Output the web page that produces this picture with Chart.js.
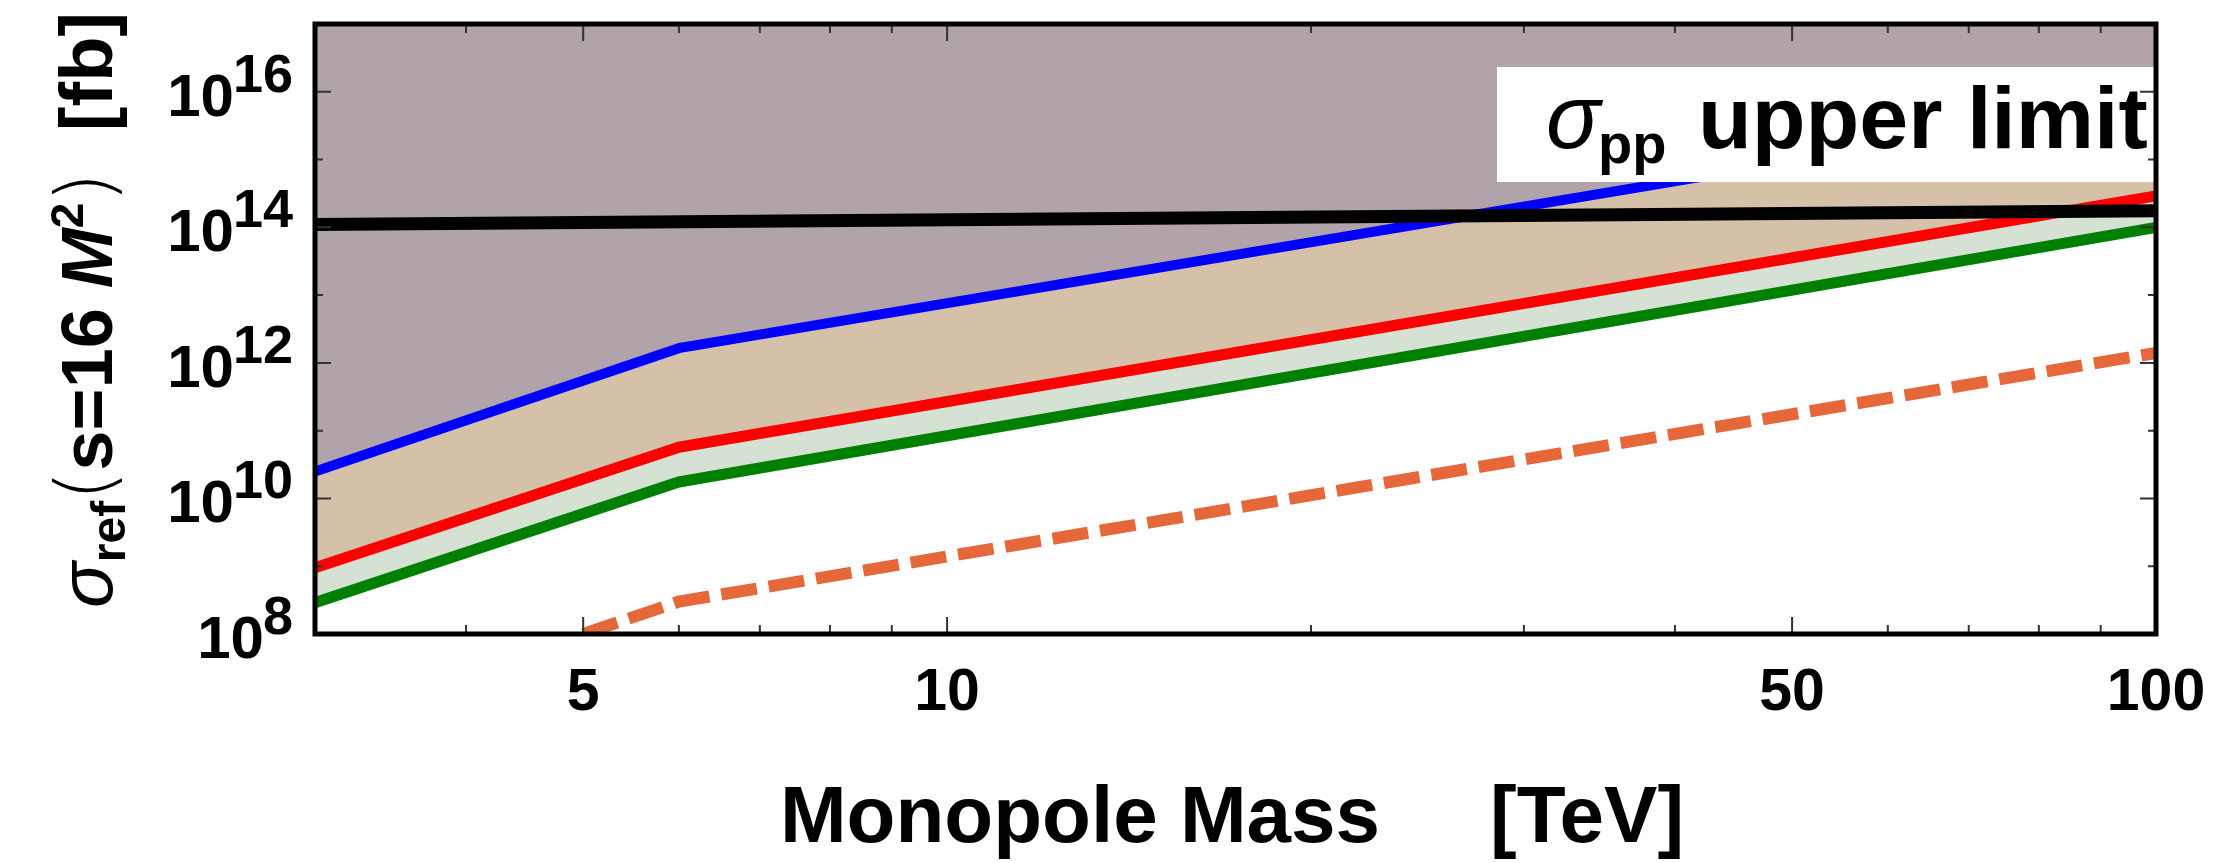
<!DOCTYPE html>
<html>
<head>
<meta charset="utf-8">
<script src="https://cdn.jsdelivr.net/npm/chart.js@4.4.1/dist/chart.umd.min.js"></script>
<style>
  html, body { margin: 0; padding: 0; background: #fff; }
  canvas { display: block; }
</style>
</head>
<body>
<canvas id="sigma-chart" width="2223" height="863"></canvas>
<script>
// monopole mass [TeV]
const massTeV = [3, 6, 100];
const dashedMassTeV = [5, 6, 100];
const limitMassTeV = [3, 100];

// cross sections [fb]
const blueCurve = [2.5e10, 1.65e12, 7.4e15];
const redCurve = [9.5e8, 5.7e10, 2.9e14];
const greenCurve = [2.9e8, 1.75e10, 1.0e14];
const dashedCurve = [1.0e8, 3.0e8, 1.4e12];
const limitCurve = [1.1e14, 1.75e14];

// axis ticks
const xMajorTicks = [5, 10, 50, 100];
const xMinorTicks = [4, 6, 7, 8, 9, 20, 30, 40, 60, 70, 80, 90];
const yLabelExponents = [8, 10, 12, 14, 16];
const yDecadeExponents = [9, 11, 13, 15];

const FONT = '"Liberation Sans", Arial, Helvetica, sans-serif';

const pts = (xs, ys) => xs.map((x, i) => ({ x: x, y: ys[i] }));

// frame, inward ticks, tick labels, axis titles and the limit box
const framePlugin = {
  id: 'framePlugin',
  afterDatasetsDraw(chart) {
    const { ctx, chartArea: a, scales: { x, y } } = chart;
    ctx.save();

    // white label box over the top right corner
    ctx.fillStyle = '#fff';
    ctx.fillRect(1497, 67, a.right - 1497, 182 - 67);
    ctx.fillStyle = '#000';
    ctx.textAlign = 'left';
    ctx.textBaseline = 'alphabetic';
    ctx.font = 'italic 90px ' + FONT;
    ctx.fillText('σ', 1546, 148);
    ctx.font = 'bold 56px ' + FONT;
    ctx.fillText('pp', 1598, 163);
    ctx.font = 'bold 88px ' + FONT;
    ctx.fillText('upper limit', 1698, 148);

    // ticks
    ctx.strokeStyle = '#333';
    ctx.lineWidth = 2;
    ctx.beginPath();
    const xTick = (v, len) => {
      const px = x.getPixelForValue(v);
      ctx.moveTo(px, a.bottom); ctx.lineTo(px, a.bottom - len);
      ctx.moveTo(px, a.top); ctx.lineTo(px, a.top + len);
    };
    const yTick = (v, len) => {
      const py = y.getPixelForValue(v);
      ctx.moveTo(a.left, py); ctx.lineTo(a.left + len, py);
      ctx.moveTo(a.right, py); ctx.lineTo(a.right - len, py);
    };
    xMajorTicks.forEach(v => xTick(v, 17));
    xMinorTicks.forEach(v => xTick(v, 9));
    yLabelExponents.forEach(e => yTick(Math.pow(10, e), 16));
    yDecadeExponents.forEach(e => yTick(Math.pow(10, e), 8));
    ctx.stroke();

    // frame
    ctx.strokeStyle = '#000';
    ctx.lineWidth = 5;
    ctx.strokeRect(a.left, a.top, a.right - a.left, a.bottom - a.top);
    ctx.restore();
  },
  afterDraw(chart) {
    const { ctx, chartArea: a, scales: { x, y } } = chart;
    ctx.save();
    ctx.fillStyle = '#000';
    ctx.textBaseline = 'alphabetic';

    // x tick labels
    ctx.textAlign = 'center';
    ctx.font = 'bold 59px ' + FONT;
    xMajorTicks.forEach(v => {
      ctx.fillText(String(v), x.getPixelForValue(v), a.bottom + 76);
    });

    // y tick labels 10^n
    ctx.textAlign = 'left';
    yLabelExponents.forEach(e => {
      const py = y.getPixelForValue(Math.pow(10, e));
      ctx.font = 'bold 54px ' + FONT;
      const ws = ctx.measureText(String(e)).width;
      ctx.font = 'bold 60px ' + FONT;
      const wb = ctx.measureText('10').width;
      const right = a.left - 22;
      const sx = right - ws;
      ctx.fillText('10', sx - wb + 1, py + 24);
      ctx.font = 'bold 54px ' + FONT;
      ctx.fillText(String(e), sx, py);
    });

    // x title
    ctx.font = 'bold 80px ' + FONT;
    ctx.textAlign = 'right';
    ctx.fillText('Monopole Mass', 1380, 842);
    ctx.textAlign = 'left';
    ctx.fillText('[TeV]', 1490, 842);

    // y title, rotated, ending near the top edge
    const parts = [
      { t: 'σ', f: 'italic 76px ' + FONT, dy: 0 },
      { t: 'ref', f: 'bold 48px ' + FONT, dy: 13 },
      { t: '(', f: '200 78px "DejaVu Sans", ' + FONT, dy: 0 },
      { t: 's=16 ', f: 'bold 72px ' + FONT, dy: 0 },
      { t: 'M', f: 'italic bold 72px ' + FONT, dy: 0 },
      { t: '2', f: 'bold 46px ' + FONT, dy: -29 },
      { t: ')', f: '200 78px "DejaVu Sans", ' + FONT, dy: 0 },
      { t: '  [fb]', f: 'bold 74px ' + FONT, dy: 0 }
    ];
    let total = 0;
    parts.forEach(p => { ctx.font = p.f; p.w = ctx.measureText(p.t).width; total += p.w; });
    ctx.translate(112, 12);
    ctx.rotate(-Math.PI / 2);
    let cx = -total;
    parts.forEach(p => {
      ctx.font = p.f;
      ctx.fillText(p.t, cx, p.dy);
      cx += p.w;
    });
    ctx.restore();
  }
};

new Chart(document.getElementById('sigma-chart'), {
  type: 'line',
  data: {
    datasets: [
      {
        label: 'blue',
        data: pts(massTeV, blueCurve),
        borderColor: '#0000ff',
        borderWidth: 10,
        backgroundColor: '#b0a3aa',
        fill: 'end',
        clip: 0
      },
      {
        label: 'red',
        data: pts(massTeV, redCurve),
        borderColor: '#ff0000',
        borderWidth: 11,
        backgroundColor: '#d4c1a8',
        fill: '-1',
        clip: 0
      },
      {
        label: 'green',
        data: pts(massTeV, greenCurve),
        borderColor: '#008000',
        borderWidth: 11,
        backgroundColor: '#d5e1d3',
        fill: '-1',
        clip: 0
      },
      {
        label: 'σpp upper limit',
        data: pts(limitMassTeV, limitCurve),
        borderColor: '#000000',
        borderWidth: 13,
        fill: false,
        clip: 0,
        order: -1
      },
      {
        label: 'dashed',
        data: pts(dashedMassTeV, dashedCurve),
        borderColor: '#e5673a',
        borderWidth: 12,
        borderDash: [36, 12],
        fill: false
      }
    ]
  },
  options: {
    responsive: false,
    animation: false,
    layout: { padding: { left: 315, right: 67, top: 24, bottom: 229 } },
    elements: {
      point: { radius: 0 },
      line: { tension: 0, borderCapStyle: 'butt', borderJoinStyle: 'miter' }
    },
    scales: {
      x: { type: 'logarithmic', min: 3, max: 100, display: false },
      y: { type: 'logarithmic', min: 1e8, max: 1e17, display: false }
    },
    plugins: {
      legend: { display: false },
      tooltip: { enabled: false }
    }
  },
  plugins: [framePlugin]
});
</script>
</body>
</html>
